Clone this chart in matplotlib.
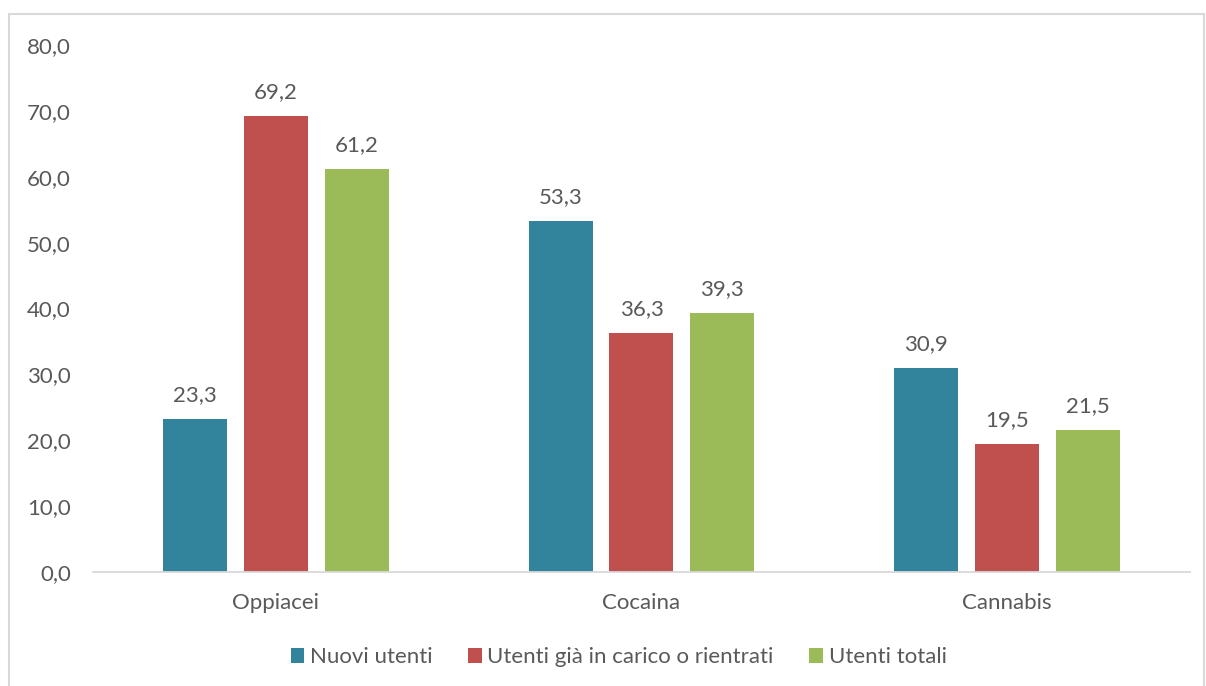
import numpy as np
import matplotlib.pyplot as plt
from matplotlib.patches import Rectangle

plt.rcParams['font.family'] = ['Lato', 'DejaVu Sans']

# sostanze e percentuali per tipo di utente
categorie = ['Oppiacei', 'Cocaina', 'Cannabis']
serie = ['Nuovi utenti', 'Utenti già in carico o rientrati', 'Utenti totali']
nuovi = [23.3, 53.3, 30.9]
gia_in_carico = [69.2, 36.3, 19.5]
totali = [61.2, 39.3, 21.5]
colori = ['#31849B', '#C0504D', '#9BBB59']
grigio = '#595959'

fig = plt.figure(figsize=(12.06, 6.86), dpi=100)
ax = fig.add_axes([0.0771, 0.1662, 0.9096, 0.7682])

# cornice esterna del grafico
fig.patches.append(Rectangle((9 / 1206, -0.01), 1195 / 1206, (686 - 14) / 686 + 0.01,
                             transform=fig.transFigure, fill=False,
                             edgecolor='#d9d9d9', linewidth=1.5))

x = np.arange(len(categorie))
larghezza = 0.175
passo = 0.221
for i, (valori, nome) in enumerate(zip([nuovi, gia_in_carico, totali], serie)):
    barre = ax.bar(x + (i - 1) * passo, valori, larghezza, color=colori[i], label=nome)
    for b, v in zip(barre, valori):
        ax.annotate(f'{v:.1f}'.replace('.', ','),
                    (b.get_x() + b.get_width() / 2, v),
                    xytext=(0, 10), textcoords='offset points',
                    ha='center', va='bottom', fontsize=16, color=grigio)

ax.set_xlim(-0.5, 2.5)
ax.set_ylim(0, 80)
ax.set_yticks(np.arange(0, 81, 10))
ax.set_yticklabels([f'{v:.1f}'.replace('.', ',') for v in np.arange(0, 81, 10)])
ax.set_xticks(x)
ax.set_xticklabels(categorie)
ax.tick_params(axis='both', length=0, labelsize=16, colors=grigio)
ax.tick_params(axis='x', pad=15)
ax.tick_params(axis='y', pad=16)
for lato in ['top', 'right', 'left']:
    ax.spines[lato].set_visible(False)
ax.spines['bottom'].set_color('#d9d9d9')
ax.spines['bottom'].set_linewidth(1.3)

fig.legend(loc='center', bbox_to_anchor=(0.513, 0.042), ncol=3, frameon=False,
           fontsize=16, labelcolor=grigio, handlelength=0.62, handleheight=0.62,
           handletextpad=0.25, columnspacing=1.6)

fig.savefig('out.png', dpi=100)
